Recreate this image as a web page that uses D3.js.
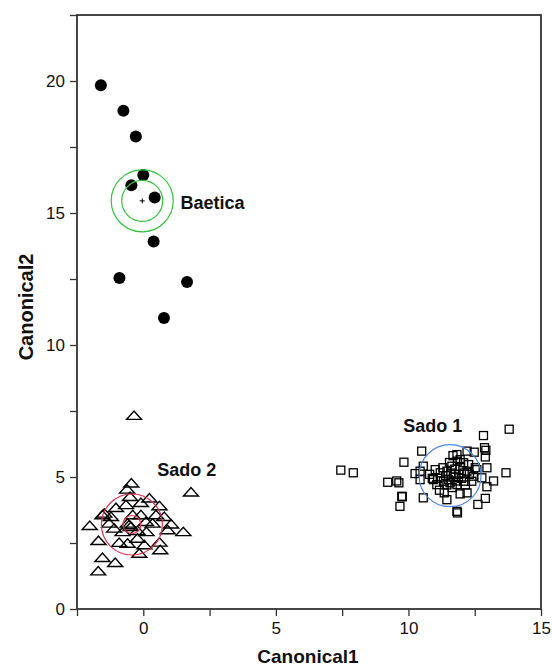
<!DOCTYPE html>
<html>
<head>
<meta charset="utf-8">
<script src="https://cdn.jsdelivr.net/npm/d3@7"></script>
<style>
  body { margin: 0; background: #fff; }
  text { font-family: "Liberation Sans", Arial, sans-serif; }
</style>
</head>
<body>
<svg id="chart" width="552" height="668"></svg>
<script>
(function() {
    'use strict';

    // ---- data ----
    var baeticaX = [-1.60, -0.75, -0.28, 0.00, -0.45, 0.43, 0.39, -0.90, 1.65, 0.78];
    var baeticaY = [19.84, 18.87, 17.90, 16.44, 16.05, 15.59, 13.92, 12.54, 12.39, 11.02];

    var sado2X = [-0.35, -0.45, 1.80, -0.61, -0.50, 0.23, -0.09, -0.65, 0.61, -1.03,
                  -1.47, -1.54, -1.22, -0.40, -0.09, 0.48, 0.79, -2.02, -1.29, -0.59,
                  -0.53, -0.47, 0.10, 0.35, 1.05, 0.92, 1.51, -1.10, -0.78, -0.22,
                  0.12, -1.69, -0.91, -0.59, -0.22, 0.04, 0.61, -0.15, 0.64, -1.54,
                  -1.06, -1.70];
    var sado2Y = [7.34, 4.78, 4.44, 4.55, 4.27, 4.21, 4.04, 3.96, 3.92, 3.85,
                  3.64, 3.58, 3.51, 3.58, 3.58, 3.58, 3.51, 3.17, 3.26, 3.26,
                  3.20, 3.13, 3.32, 3.26, 3.23, 3.01, 2.94, 3.07, 2.94, 2.98,
                  2.94, 2.60, 2.53, 2.50, 2.69, 2.44, 2.54, 2.12, 2.25, 1.96,
                  1.77, 1.45];

    var sado1X = [13.80, 12.83, 12.87, 12.92, 10.50, 12.21, 12.48, 11.83, 11.68, 9.83,
                  12.90, 11.95, 12.08, 12.27, 12.52, 12.96, 13.68, 7.45, 7.92, 10.56,
                  10.25, 10.44, 11.01, 11.20, 11.45, 11.64, 11.76, 11.89, 12.21, 12.45,
                  12.58, 12.77, 13.21, 9.22, 9.56, 9.64, 10.44, 10.94, 11.07, 11.32,
                  11.57, 11.83, 12.08, 12.39, 12.96, 11.17, 11.35, 11.95, 12.21, 9.75,
                  9.77, 10.56, 11.45, 12.90, 12.62, 9.68, 11.83, 11.85,
                  11.40, 11.60, 11.75, 11.90, 12.00, 11.50, 11.65, 11.80, 11.95, 12.10,
                  11.30, 11.55, 12.15, 11.70, 11.85, 10.80, 10.90, 11.10, 12.30, 11.45];
    var sado1Y = [6.81, 6.57, 6.11, 6.01, 5.98, 5.98, 5.94, 5.85, 5.81, 5.56,
                  5.76, 5.66, 5.54, 5.47, 5.35, 5.35, 5.16, 5.26, 5.16, 5.41,
                  5.13, 5.22, 5.28, 5.16, 5.22, 5.41, 5.09, 4.97, 5.22, 5.03,
                  5.28, 4.97, 4.85, 4.80, 4.85, 4.78, 4.90, 4.90, 4.71, 4.84,
                  4.78, 4.71, 4.84, 4.84, 4.63, 4.50, 4.40, 4.36, 4.40, 4.27,
                  4.25, 4.21, 4.14, 4.19, 3.96, 3.89, 3.70, 3.64,
                  5.05, 5.15, 5.30, 5.10, 4.95, 4.90, 4.60, 4.85, 5.40, 5.15,
                  5.35, 5.55, 4.70, 5.00, 5.60, 5.10, 4.95, 4.95, 5.10, 4.70];

    // group centroids and labels
    var groupNames = ['Baetica', 'Sado 1', 'Sado 2'];
    var centroidX  = [-0.04, 11.57, -0.43];
    var centroidY  = [15.46, 5.05, 3.20];
    var labelX     = [1.40, 9.80, 0.53];
    var labelY     = [15.17, 6.70, 5.05];

    var xTicks = [-2.5, 0, 2.5, 5, 7.5, 10, 12.5, 15];
    var yTicks = [0, 2.5, 5, 7.5, 10, 12.5, 15, 17.5, 20, 22.5];

    /******************************************************************
        layout
     ******************************************************************/
    var margin = {left: 77, right: 11, top: 15, bottom: 59};
    var W = 552, H = 668;
    var svg = d3.select('#chart');

    var x = d3.scaleLinear().domain([-2.5, 15]).range([margin.left, W - margin.right]);
    var y = d3.scaleLinear().domain([0, 22.5]).range([H - margin.bottom, margin.top]);

    var fmt = function(d) { return d % 5 === 0 ? d : ''; };

    var gx = svg.append('g')
        .attr('transform', 'translate(0,' + (H - margin.bottom) + ')')
        .call(d3.axisBottom(x).tickValues(xTicks).tickFormat(fmt).tickSize(7).tickPadding(6));
    var gy = svg.append('g')
        .attr('transform', 'translate(' + margin.left + ',0)')
        .call(d3.axisLeft(y).tickValues(yTicks).tickFormat(fmt).tickSize(7).tickPadding(5));

    [gx, gy].forEach(function(g) {
        g.select('.domain').remove();
        g.selectAll('line').attr('stroke', '#333').attr('stroke-width', 1.3);
        g.selectAll('text').attr('font-size', 17).attr('fill', '#111')
            .style('font-family', '"Liberation Sans", Arial, sans-serif');
    });

    // frame
    svg.append('rect')
        .attr('x', x(-2.5)).attr('y', y(22.5))
        .attr('width', x(15) - x(-2.5)).attr('height', y(0) - y(22.5))
        .attr('fill', 'none').attr('stroke', '#333').attr('stroke-width', 1.8);

    // axis titles
    svg.append('text')
        .attr('x', 308).attr('y', 663)
        .attr('text-anchor', 'middle').attr('font-size', 19).attr('font-weight', 'bold')
        .attr('fill', '#111').text('Canonical1');
    svg.append('text')
        .attr('transform', 'translate(33,307) rotate(-90)')
        .attr('text-anchor', 'middle').attr('font-size', 20).attr('font-weight', 'bold')
        .attr('fill', '#111').text('Canonical2');

    /******************************************************************
        points
     ******************************************************************/
    var plot = svg.append('g');

    plot.selectAll('circle.baetica')
        .data(d3.zip(baeticaX, baeticaY))
        .enter().append('circle')
            .attr('class', 'baetica')
            .attr('cx', function(d) { return x(d[0]); })
            .attr('cy', function(d) { return y(d[1]); })
            .attr('r', 6)
            .attr('fill', '#000');

    var tri = 'M-7.5,4.2L0,-4.2L7.5,4.2Z';
    plot.selectAll('path.sado2')
        .data(d3.zip(sado2X, sado2Y))
        .enter().append('path')
            .attr('class', 'sado2')
            .attr('d', tri)
            .attr('transform', function(d) { return 'translate(' + x(d[0]) + ',' + y(d[1]) + ')'; })
            .attr('fill', 'none').attr('stroke', '#000').attr('stroke-width', 1.4);

    plot.selectAll('rect.sado1')
        .data(d3.zip(sado1X, sado1Y))
        .enter().append('rect')
            .attr('class', 'sado1')
            .attr('x', function(d) { return x(d[0]) - 4; })
            .attr('y', function(d) { return y(d[1]) - 4; })
            .attr('width', 8).attr('height', 8)
            .attr('fill', 'none').attr('stroke', '#000').attr('stroke-width', 1.3);

    /******************************************************************
        centroid circles + labels
     ******************************************************************/
    var colors = ['#33c33a', '#4f86e6', '#e8304f'];
    var rings  = [[20.5, 31], [31], [30.5, 9]];

    groupNames.forEach(function(name, i) {
        rings[i].forEach(function(r) {
            plot.append('circle')
                .attr('cx', x(centroidX[i])).attr('cy', y(centroidY[i]))
                .attr('r', r)
                .attr('fill', 'none').attr('stroke', colors[i]).attr('stroke-width', 1.2);
        });
        svg.append('text')
            .attr('x', x(labelX[i])).attr('y', y(labelY[i]))
            .attr('font-size', 18).attr('font-weight', 'bold').attr('fill', '#111')
            .text(name);
    });

    // tiny "+" marking the Baetica centroid
    plot.append('path')
        .attr('d', 'M-2.5,0H2.5M0,-2.5V2.5')
        .attr('transform', 'translate(' + x(centroidX[0]) + ',' + y(centroidY[0]) + ')')
        .attr('stroke', '#000').attr('stroke-width', 1);
})();
</script>
</body>
</html>
